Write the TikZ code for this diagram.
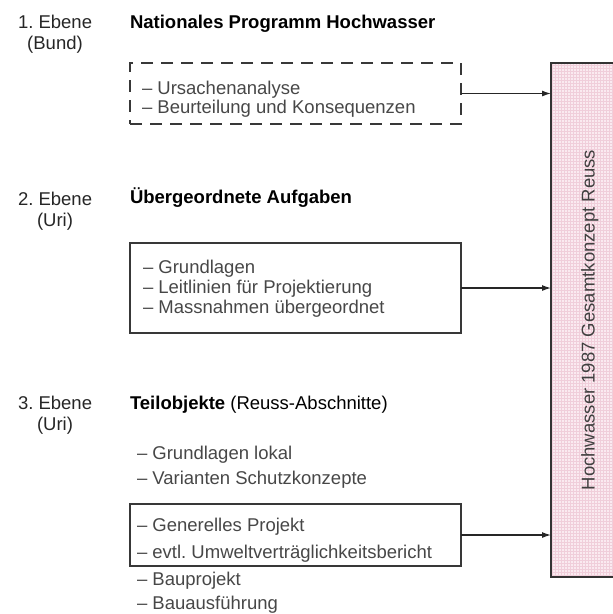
\documentclass[tikz,border=0pt]{standalone}
\usepackage{fontspec}
\setmainfont{Liberation Sans}
\usetikzlibrary{arrows.meta}
\definecolor{pinkfill}{RGB}{250,234,240}
\definecolor{pinkgrid}{RGB}{240,206,218}
\frenchspacing
\begin{document}
\begin{tikzpicture}[x=1pt,y=-1pt,>={Latex[length=9pt,width=6pt]},
		every node/.style={font=\fontsize{18.5}{21}\selectfont,inner sep=0pt,outer sep=0pt,text height=13.3pt,text depth=0pt},
		levelstyle/.style={text=black!85},
		titlestyle/.style={anchor=west,font=\fontsize{18.5}{21}\selectfont\bfseries,text=black},
		itemstyle/.style={anchor=west,text=black!72},
		framestyle/.style={draw=black!78,line width=1.2pt,anchor=north west,minimum width=331pt},
		arrowstyle/.style={->,draw=black!85,line width=1.2pt}]
		
		\useasboundingbox (0,0) rectangle (613,614);
		
		% Ebenen
		\node[levelstyle,anchor=west] (ebene1) at (18,22) {1. Ebene};
		\node[levelstyle] (bund) at (55,43) {(Bund)};
		\node[levelstyle,anchor=west] (ebene2) at (18,199) {2. Ebene};
		\node[levelstyle] (uri2) at (55,220) {(Uri)};
		\node[levelstyle,anchor=west] (ebene3) at (18,403) {3. Ebene};
		\node[levelstyle] (uri3) at (55,424) {(Uri)};
		
		% Titel
		\node[titlestyle] (titel1) at (130,22) {Nationales Programm Hochwasser};
		\node[titlestyle] (titel2) at (130,197) {Übergeordnete Aufgaben};
		\node[titlestyle,font=\fontsize{18.5}{21}\selectfont] (titel3) at (130,403) {\textbf{Teilobjekte} (Reuss-Abschnitte)};
		
		% Kästen
		\node[framestyle,dash pattern=on 12pt off 8pt,minimum height=61pt] (ursachenbox) at (130,63) {};
		\node[framestyle,minimum height=90pt] (aufgabenbox) at (130,243) {};
		\node[framestyle,minimum height=62pt] (teilbox) at (130,504) {};
		\node[draw=black!80,line width=1.2pt,fill=pinkfill,anchor=north west,minimum width=74pt,minimum height=514pt,
			path picture={\draw[pinkgrid,line width=0.4pt,step=3pt] (path picture bounding box.south west) grid (path picture bounding box.north east);}] (konzept) at (551,63) {};
		\node[rotate=90,text=black!75] (konzepttext) at (konzept.center) {Hochwasser 1987 Gesamtkonzept Reuss};
		
		% Punkte
		\node[itemstyle] (ursachen) at (142,88) {– Ursachenanalyse};
		\node[itemstyle] (beurteilung) at (142,107) {– Beurteilung und Konsequenzen};
		
		\node[itemstyle] (grundlagen) at (143,267) {– Grundlagen};
		\node[itemstyle] (leitlinien) at (143,287) {– Leitlinien für Projektierung};
		\node[itemstyle] (massnahmen) at (143,307) {– Massnahmen übergeordnet};
		
		\node[itemstyle] (lokal) at (137,453) {– Grundlagen lokal};
		\node[itemstyle] (varianten) at (137,478) {– Varianten Schutzkonzepte};
		\node[itemstyle] (generell) at (137,525) {– Generelles Projekt};
		\node[itemstyle] (umwelt) at (137,552) {– evtl. Umweltverträglichkeitsbericht};
		\node[itemstyle] (bauprojekt) at (137,579) {– Bauprojekt};
		\node[itemstyle] (ausfuehrung) at (137,603) {– Bauausführung};
		
		% Pfeile
		\draw[arrowstyle] (ursachenbox.east) -- (ursachenbox.east -| konzept.west);
		\draw[arrowstyle] (aufgabenbox.east) -- (aufgabenbox.east -| konzept.west);
		\draw[arrowstyle] (teilbox.east) -- (teilbox.east -| konzept.west);
		\end{tikzpicture}
\end{document}
